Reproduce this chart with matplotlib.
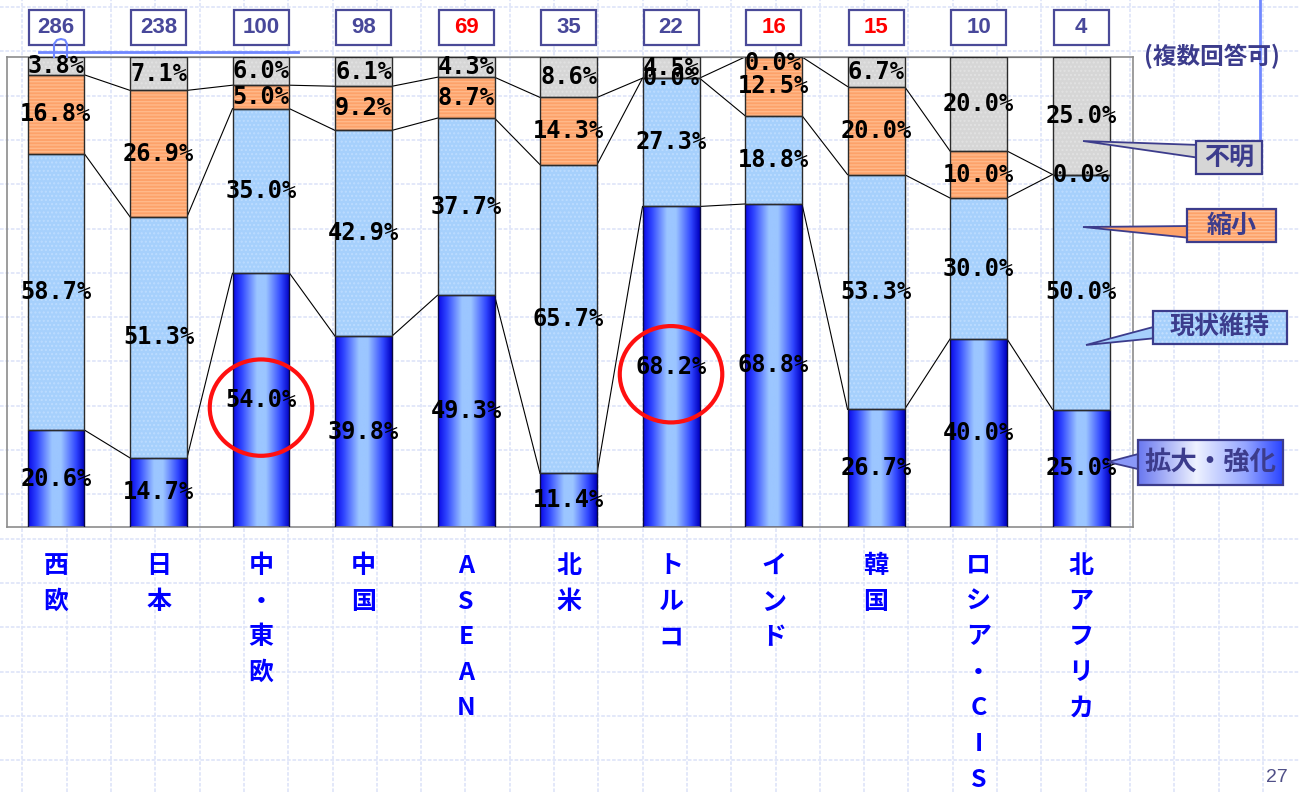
import numpy as np
import matplotlib.pyplot as plt
from matplotlib.colors import LinearSegmentedColormap
from matplotlib.patches import Rectangle, Ellipse, Polygon
from matplotlib.transforms import blended_transform_factory

plt.rcParams['font.family'] = ['Noto Sans CJK JP', 'DejaVu Sans']
plt.rcParams['hatch.linewidth'] = 1.0

# data
regions = ['西欧', '日本', '中・東欧', '中国', 'ASEAN', '北米', 'トルコ',
           'インド', '韓国', 'ロシア・CIS', '北アフリカ']
counts = [286, 238, 100, 98, 69, 35, 22, 16, 15, 10, 4]
count_red = [False, False, False, False, True, False, False, True, True, False, False]
expand = [20.6, 14.7, 54.0, 39.8, 49.3, 11.4, 68.2, 68.8, 26.7, 40.0, 25.0]
keep = [58.7, 51.3, 35.0, 42.9, 37.7, 65.7, 27.3, 18.8, 53.3, 30.0, 50.0]
shrink = [16.8, 26.9, 5.0, 9.2, 8.7, 14.3, 0.0, 12.5, 20.0, 10.0, 0.0]
unknown = [3.8, 7.1, 6.0, 6.1, 4.3, 8.6, 4.5, 0.0, 6.7, 20.0, 25.0]
series_names = ['拡大・強化', '現状維持', '縮小', '不明']
circled = ['中・東欧', 'トルコ']
note = '(複数回答可)'
page_no = '27'

W, H = 1299, 792
fig = plt.figure(figsize=(W / 100, H / 100), dpi=100)

# slide background grid
bg = fig.add_axes([0, 0, 1, 1], zorder=0)
bg.set_xlim(0, W)
bg.set_ylim(H, 0)
bg.axis('off')
for gx in np.arange(22.5, W, 44.3):
    bg.axvline(gx, color='#e0e6f9', lw=1.3, ls=(0, (2, 1)))
for gy in np.arange(7, H, 44.3):
    bg.axhline(gy, color='#e0e6f9', lw=1.3, ls=(0, (2, 1)))

# main chart
ax = fig.add_axes([7 / W, (H - 527) / H, 1126 / W, 470 / H], zorder=1)
ax.set_facecolor('none')
x = np.arange(len(regions))
w = 0.556

vals = np.array([expand, keep, shrink, unknown])
share = vals / vals.sum(axis=0) * 100   # 100% stacked
tops = share.cumsum(axis=0)
bots = tops - share

# series lines between bars
for k in range(4):
    for i in range(len(x) - 1):
        ax.plot([x[i] + w / 2, x[i + 1] - w / 2], [tops[k, i], tops[k, i + 1]],
                color='black', lw=0.8, zorder=1)

# expand / strengthen: gradient column
blue_cmap = LinearSegmentedColormap.from_list(
    'col', [(0, '#0a0ae8'), (0.15, '#2f45ff'), (0.42, '#9cc6ff'), (0.58, '#9cc6ff'),
            (0.85, '#2f45ff'), (1, '#0000c0')])
grad = np.linspace(0, 1, 128).reshape(1, -1)
for i in x:
    ax.imshow(grad, cmap=blue_cmap, extent=(i - w / 2, i + w / 2, 0, share[0, i]),
              aspect='auto', zorder=2, interpolation='bicubic')
ax.bar(x, share[0], w, fill=False, edgecolor='#0a0a40', lw=1, zorder=3)

# keep
ax.bar(x, share[1], w, bottom=bots[1], color='#a6d0fc', edgecolor='#bcdcff',
       lw=0, hatch='....', zorder=2)
ax.bar(x, share[1], w, bottom=bots[1], fill=False, edgecolor='#2b2b2b', lw=1, zorder=3)
# shrink
ax.bar(x, share[2], w, bottom=bots[2], color='#fda26a', edgecolor='#ffb98a',
       lw=0, hatch='-----', zorder=2)
ax.bar(x, share[2], w, bottom=bots[2], fill=False, edgecolor='#2b2b2b', lw=1, zorder=3)
# unknown
ax.bar(x, share[3], w, bottom=bots[3], color='#d6d6d6', edgecolor='#e2e2e2',
       lw=0, hatch='....', zorder=2)
ax.bar(x, share[3], w, bottom=bots[3], fill=False, edgecolor='#2b2b2b', lw=1, zorder=3)

# value labels
for k in range(4):
    for i in x:
        yy = min(bots[k, i] + share[k, i] / 2, 98.8)
        ax.text(i, yy, f'{vals[k, i]:.1f}%', ha='center', va='center',
                fontsize=17, fontweight='bold', family='DejaVu Sans Mono',
                color='black', zorder=5)

# red circles
for name in circled:
    i = regions.index(name)
    ax.add_patch(Ellipse((i, bots[0, i] + share[0, i] / 2 - 1.6), 1.0, 20.5,
                         fill=False, edgecolor='#ff1010', lw=3, zorder=6, clip_on=False))

ax.set_xlim(-0.478, 10.507)
ax.set_ylim(0, 100)
ax.set_xticks([])
ax.set_yticks([])
for s in ax.spines.values():
    s.set_color('#8c8c8c')
    s.set_linewidth(1.2)

# respondent counts above bars
trans = blended_transform_factory(ax.transData, ax.transAxes)
for i, (n, red) in enumerate(zip(counts, count_red)):
    ax.add_patch(Rectangle((i - 0.268, 1.0255), 0.537, 0.0745, transform=trans,
                           clip_on=False, facecolor='white', edgecolor='#4a4a98', lw=1.6))
    ax.text(i, 1.062, str(n), transform=trans, ha='center', va='center',
            fontsize=16, fontweight='bold',
            family=['Liberation Sans Narrow', 'Liberation Sans'],
            color='#ff0000' if red else '#48489a')

# vertical category labels
for i, name in enumerate(regions):
    for j, ch in enumerate(name):
        ax.annotate(ch, xy=(i, 0), xycoords=('data', 'axes fraction'),
                    xytext=(0, -(39 + 35.6 * j)), textcoords='offset pixels',
                    ha='center', va='center', fontsize=18, fontweight='bold',
                    color='#0000ff', annotation_clip=False)

# overlay: legend callouts and slide decorations
fg = fig.add_axes([0, 0, 1, 1], zorder=4)
fg.set_facecolor('none')
fg.axis('off')

ink = '#3c3c8c'
fg.plot([39, 298], [52, 52], color='#6f86ff', lw=2)
fg.plot([54, 54, 57, 61, 65, 67, 67], [57, 44, 40, 39, 40, 44, 57], color='#6f86ff', lw=1.5)
fg.plot([1260, 1260], [0, 141], color='#7088ff', lw=2)

callouts = [
    (series_names[3], (1196, 141, 66, 33), (1083, 141), (145, 158), '#d6d6d6', None, 18),
    (series_names[2], (1187, 209, 89, 33), (1083, 227), (226, 238), '#fda26a', '-----', 18),
    (series_names[1], (1153, 311, 134, 33), (1086, 345), (326, 338), '#a6d0fc', '....', 18),
    (series_names[0], (1138, 440, 145, 45), (1108, 462), (453, 470), None, None, 19),
]
box_cmap = LinearSegmentedColormap.from_list(
    'box', [(0, '#6a78f0'), (0.4, '#eef2ff'), (0.75, '#93a4ff'), (1, '#2a44ff')])
for label, (bx, by, bw, bh), tip, base, fill, hatch, fs in callouts:
    fc = fill if fill else '#8a98f8'
    fg.add_patch(Polygon([tip, (bx + 4, base[0]), (bx + 4, base[1])], closed=True,
                         facecolor=fc, edgecolor=ink, lw=1.3, zorder=2))
    if fill:
        fg.add_patch(Rectangle((bx, by), bw, bh, facecolor=fill,
                               edgecolor='#ffbf95' if hatch == '-----' else '#c4e0ff',
                               lw=0, hatch=hatch, zorder=3))
    else:
        fg.imshow(grad, cmap=box_cmap, extent=(bx, bx + bw, by + bh, by),
                  aspect='auto', zorder=3, interpolation='bicubic')
    fg.add_patch(Rectangle((bx, by), bw, bh, fill=False, edgecolor=ink, lw=1.6, zorder=4))
    fg.text(bx + bw / 2, by + bh / 2, label, ha='center', va='center', fontsize=fs,
            fontweight='bold', color=ink, zorder=5)

fg.text(1212, 56, note, ha='center', va='center', fontsize=17, fontweight='bold', color=ink)
fg.text(1277, 777, page_no, ha='center', va='center', fontsize=14, color='#505088',
        family='Liberation Sans')

fg.set_xlim(0, W)
fg.set_ylim(H, 0)

fig.savefig('out.png', dpi=100)
